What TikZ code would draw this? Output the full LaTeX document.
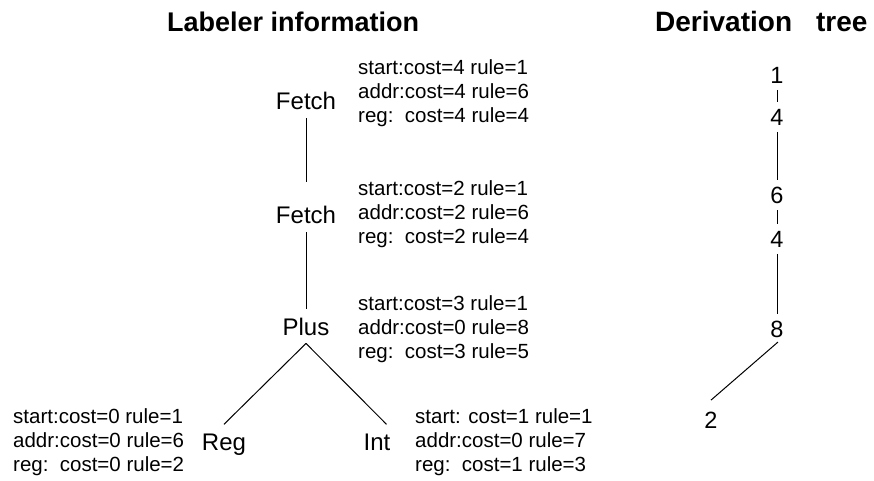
\documentclass[tikz,border=0pt]{standalone}
\usepackage{fontspec}
\setmainfont{Liberation Sans}
\usetikzlibrary{calc}
\begin{document}
\begin{tikzpicture}[x=1pt,y=-1pt,
  every node/.style={inner sep=0pt},
  title/.style={font=\fontsize{27}{30}\selectfont\bfseries, anchor=base west},
  info/.style={font=\fontsize{20.5}{24}\selectfont, anchor=base west},
  opnode/.style={font=\fontsize{24}{27}\selectfont, anchor=base, inner xsep=0pt, inner ysep=9pt},
  rulenum/.style={font=\fontsize{23.5}{27}\selectfont, inner sep=6.5pt},
  edge/.style={line width=1pt}]
\useasboundingbox (0,0) rectangle (874,481);

% titles
\node[title] (t1) at (167,32) {Labeler information};
\node[title, font=\fontsize{28}{30}\selectfont\bfseries] (t2) at (655,32) {Derivation\hspace{24pt}tree};

% labeler tree
\node[opnode] (f1) at (306,110) {Fetch};
\node[opnode] (f2) at (306,223) {Fetch};
\node[opnode, inner ysep=8pt] (pl) at (306,335) {Plus};
\node[opnode] (rg) at (224,450) {Reg};
\node[opnode] (it) at (377,450) {Int};

\draw[edge, shorten <=-1pt, shorten >=14pt] (f1.south) -- (f2.north);
\draw[edge] (f2.south) -- (pl.north);
\draw[edge] (pl.south) -- (rg.north);
\draw[edge] (pl.south) -- ($(it.north)!0.7!(it.north east)$);

% labeler info
\node[info] (a1) at (358,75)  {start:cost=4 rule=1};
\node[info] (a2) at (358,99)  {addr:cost=4 rule=6};
\node[info] (a3) at (358,123) {reg:\ \ cost=4 rule=4};

\node[info] (b1) at (358,195) {start:cost=2 rule=1};
\node[info] (b2) at (358,219) {addr:cost=2 rule=6};
\node[info] (b3) at (358,243) {reg:\ \ cost=2 rule=4};

\node[info] (c1) at (358,310) {start:cost=3 rule=1};
\node[info] (c2) at (358,334) {addr:cost=0 rule=8};
\node[info] (c3) at (358,358) {reg:\ \ cost=3 rule=5};

\node[info] (d1) at (13,423) {start:cost=0 rule=1};
\node[info] (d2) at (13,447) {addr:cost=0 rule=6};
\node[info] (d3) at (13,471) {reg:\ \ cost=0 rule=2};

\node[info] (e1) at (415,423) {start: cost=1 rule=1};
\node[info] (e2) at (415,447) {addr:cost=0 rule=7};
\node[info] (e3) at (415,471) {reg:\ \ cost=1 rule=3};

% derivation tree
\node[rulenum] (r1) at (777,75)  {1};
\node[rulenum] (r4a) at (777,117) {4};
\node[rulenum] (r6) at (777,195) {6};
\node[rulenum] (r4b) at (777,239) {4};
\node[rulenum] (r8) at (777,329) {8};
\node[rulenum] (r2) at (711,420) {2};

\draw[edge] (r1) -- (r4a);
\draw[edge] (r4a) -- (r6);
\draw[edge] (r6) -- (r4b);
\draw[edge] (r4b) -- (r8);
\draw[edge] ([xshift=1pt,yshift=2pt]r8.south) -- ([yshift=5pt]r2.north);
\end{tikzpicture}
\end{document}
